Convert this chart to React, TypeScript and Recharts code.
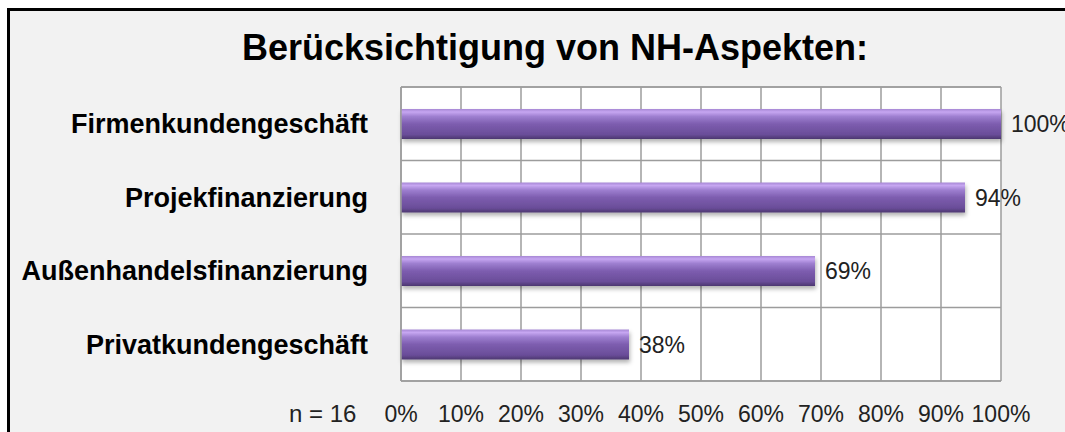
import { Bar, BarChart, CartesianGrid, LabelList, XAxis, YAxis } from "recharts";

const categories = ["Firmenkundengeschäft", "Projekfinanzierung", "Außenhandelsfinanzierung", "Privatkundengeschäft"];
const shares = [100, 94, 69, 38];
const xTicks = [0, 10, 20, 30, 40, 50, 60, 70, 80, 90, 100];

const data = categories.map((name, i) => ({ name, value: shares[i] }));
const bandMarks = categories.map((_, i) => i).concat(categories.length);

const FONT = "'Liberation Sans', Arial, sans-serif";
const GRID = "#9c9c9c";

// tick marks only, no labels
const NoLabel = () => <g />;

export default function App() {
  return (
    <div
      style={{
        position: "absolute",
        left: 0,
        top: 0,
        width: 1065,
        height: 432,
        overflow: "hidden",
        background: "#fff",
        fontFamily: FONT,
      }}
    >
      <div
        style={{
          position: "absolute",
          left: 7,
          top: 8,
          width: 1100,
          height: 460,
          border: "3px solid #000",
          background: "#f2f2f2",
        }}
      />
      <div
        style={{
          position: "absolute",
          left: 0,
          width: 1110,
          top: 26,
          textAlign: "center",
          fontSize: 36,
          fontWeight: "bold",
          color: "#000",
          lineHeight: "44px",
        }}
      >
        Berücksichtigung von NH-Aspekten:
      </div>
      <div
        style={{
          position: "absolute",
          left: 289,
          top: 400,
          fontSize: 24,
          color: "#222",
          lineHeight: "28px",
          whiteSpace: "pre",
        }}
      >
        n = 16
      </div>
      <div style={{ position: "absolute", left: 0, top: 0 }}>
        <BarChart
          width={1065}
          height={432}
          data={data}
          layout="vertical"
          margin={{ top: 77, right: 64, bottom: 0, left: 0 }}
        >
          <defs>
            <linearGradient id="barFill" x1="0" y1="0" x2="0" y2="1">
              <stop offset="0%" stopColor="#a687d4" />
              <stop offset="10%" stopColor="#c6a6f1" />
              <stop offset="25%" stopColor="#9e7fd0" />
              <stop offset="50%" stopColor="#7d5daf" />
              <stop offset="85%" stopColor="#6a4d99" />
              <stop offset="100%" stopColor="#4d3770" />
            </linearGradient>
            <filter id="barShadow" x="-5%" y="-20%" width="110%" height="160%">
              <feDropShadow dx="1" dy="3" stdDeviation="2" floodColor="#000" floodOpacity="0.3" />
            </filter>
          </defs>
          <CartesianGrid
            xAxisId="bottom"
            yAxisId="cat"
            fill="#ffffff"
            stroke={GRID}
            strokeWidth={1.5}
            horizontalCoordinatesGenerator={({ offset }: any) =>
              bandMarks.map((i) => offset.top + (i * offset.height) / categories.length)
            }
          />
          <XAxis
            xAxisId="top"
            orientation="top"
            type="number"
            domain={[0, 100]}
            ticks={xTicks}
            height={10}
            tick={NoLabel}
            tickSize={9}
            tickLine={{ stroke: GRID, strokeWidth: 1.5 }}
            axisLine={{ stroke: GRID, strokeWidth: 1.5 }}
          />
          <XAxis
            xAxisId="bottom"
            orientation="bottom"
            type="number"
            domain={[0, 100]}
            ticks={xTicks}
            height={51}
            tickFormatter={(v: number) => `${v}%`}
            tickLine={false}
            tickSize={0}
            tickMargin={25}
            axisLine={{ stroke: GRID, strokeWidth: 1.5 }}
            tick={{ fill: "#222", fontSize: 23, fontFamily: FONT }}
          />
          <YAxis
            yAxisId="cat"
            type="category"
            dataKey="name"
            width={401}
            tickLine={false}
            tickSize={10}
            tickMargin={23}
            axisLine={{ stroke: GRID, strokeWidth: 1.5 }}
            tick={{ fill: "#000", fontSize: 27, fontWeight: "bold", fontFamily: FONT }}
          />
          <YAxis
            yAxisId="marks"
            type="number"
            domain={[0, categories.length]}
            ticks={bandMarks}
            width={0}
            tick={NoLabel}
            tickSize={10}
            tickLine={{ stroke: GRID, strokeWidth: 1.5 }}
            axisLine={false}
          />
          <Bar
            xAxisId="bottom"
            yAxisId="cat"
            dataKey="value"
            barSize={30}
            fill="url(#barFill)"
            filter="url(#barShadow)"
            isAnimationActive={false}
          >
            <LabelList
              dataKey="value"
              position="right"
              offset={10}
              formatter={(v: any) => `${v}%`}
              style={{ fill: "#222", fontSize: 23, fontFamily: FONT }}
            />
          </Bar>
        </BarChart>
      </div>
    </div>
  );
}
